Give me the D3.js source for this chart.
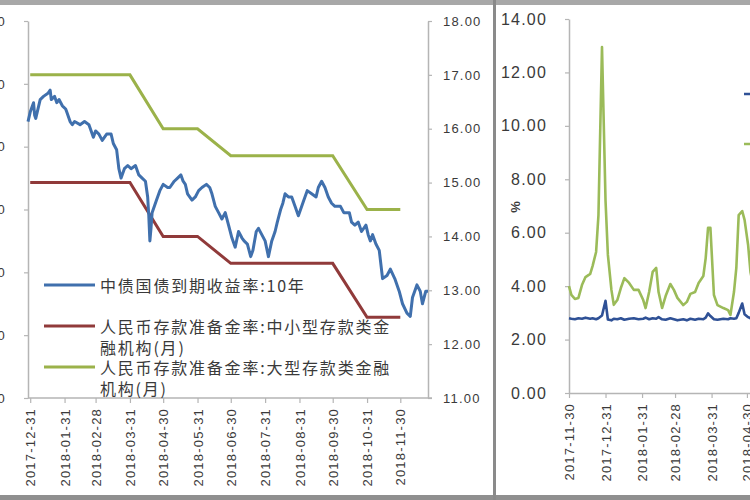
<!DOCTYPE html>
<html><head><meta charset="utf-8">
<script src="https://cdn.jsdelivr.net/npm/d3@7/dist/d3.min.js"></script>
<style>
body{margin:0;background:#fff;}
svg{display:block;}
text{font-family:"Liberation Sans","Noto Sans CJK SC",sans-serif;fill:#3a3a3a;}
.cjk{font-family:"Noto Sans CJK SC",sans-serif;}
</style></head>
<body>
<svg id="c" width="750" height="500"></svg>
<script>
// ---------- LEFT CHART DATA ----------
const bondDates = ["2017-12-29","2017-12-31","2018-01-03","2018-01-04","2018-01-05","2018-01-09","2018-01-12","2018-01-16","2018-01-18","2018-01-19","2018-01-22","2018-01-24","2018-01-26","2018-01-29","2018-02-01","2018-02-02","2018-02-05","2018-02-07","2018-02-09","2018-02-14","2018-02-18","2018-02-22","2018-02-26","2018-02-28","2018-03-03","2018-03-06","2018-03-10","2018-03-14","2018-03-16","2018-03-19","2018-03-21","2018-03-23","2018-03-26","2018-03-29","2018-04-01","2018-04-05","2018-04-08","2018-04-11","2018-04-14","2018-04-16","2018-04-17","2018-04-18","2018-04-19","2018-04-20","2018-04-24","2018-04-27","2018-04-30","2018-05-04","2018-05-06","2018-05-10","2018-05-13","2018-05-16","2018-05-18","2018-05-20","2018-05-22","2018-05-26","2018-05-29","2018-06-01","2018-06-04","2018-06-08","2018-06-11","2018-06-13","2018-06-16","2018-06-19","2018-06-22","2018-06-25","2018-06-28","2018-07-01","2018-07-04","2018-07-07","2018-07-10","2018-07-12","2018-07-15","2018-07-18","2018-07-20","2018-07-23","2018-07-25","2018-07-28","2018-07-31","2018-08-03","2018-08-06","2018-08-09","2018-08-11","2018-08-14","2018-08-16","2018-08-18","2018-08-21","2018-08-24","2018-08-27","2018-08-30","2018-09-01","2018-09-04","2018-09-07","2018-09-11","2018-09-15","2018-09-17","2018-09-20","2018-09-23","2018-09-26","2018-09-29","2018-10-02","2018-10-07","2018-10-10","2018-10-15","2018-10-17","2018-10-20","2018-10-23","2018-10-26","2018-10-30","2018-11-01","2018-11-03","2018-11-05","2018-11-08","2018-11-11","2018-11-14","2018-11-18","2018-11-21","2018-11-25","2018-11-29","2018-12-02","2018-12-06","2018-12-09","2018-12-11","2018-12-15","2018-12-18","2018-12-20","2018-12-23","2018-12-25"];
const bondYield = [3.88,3.91,3.94,3.90,3.89,3.95,3.96,3.97,3.98,3.95,3.96,3.94,3.95,3.93,3.92,3.91,3.88,3.87,3.88,3.87,3.88,3.87,3.83,3.85,3.84,3.82,3.84,3.84,3.81,3.79,3.73,3.70,3.73,3.74,3.73,3.74,3.71,3.70,3.69,3.64,3.58,3.50,3.54,3.59,3.63,3.66,3.68,3.67,3.67,3.69,3.70,3.71,3.69,3.68,3.65,3.63,3.64,3.66,3.67,3.68,3.67,3.65,3.61,3.59,3.57,3.59,3.55,3.51,3.48,3.53,3.51,3.50,3.49,3.45,3.47,3.53,3.54,3.52,3.50,3.45,3.50,3.53,3.56,3.60,3.62,3.65,3.64,3.64,3.61,3.58,3.60,3.63,3.66,3.65,3.64,3.67,3.69,3.67,3.64,3.62,3.61,3.61,3.59,3.59,3.56,3.55,3.56,3.53,3.55,3.52,3.50,3.52,3.49,3.47,3.38,3.39,3.41,3.38,3.34,3.30,3.27,3.26,3.32,3.36,3.34,3.30,3.34,3.34];
const rrrDates = ["2017-12-31","2018-01-31","2018-02-28","2018-03-31","2018-04-30","2018-05-31","2018-06-30","2018-07-31","2018-08-31","2018-09-30","2018-10-31","2018-11-30"];
const rrrSmall = [15,15,15,15,14,14,13.5,13.5,13.5,13.5,12.5,12.5];
const rrrLarge = [17,17,17,17,16,16,15.5,15.5,15.5,15.5,14.5,14.5];
const leftTicks = [3.0,3.2,3.4,3.6,3.8,4.0,4.2];
const rightTicks = [11,12,13,14,15,16,17,18];
const legendLines = [
  ["中债国债到期收益率:10年"],
  ["人民币存款准备金率:中小型存款类金","融机构(月)"],
  ["人民币存款准备金率:大型存款类金融","机构(月)"]
];

// ---------- RIGHT CHART DATA ----------
const repoDates = ["2017-11-30","2017-12-02","2017-12-05","2017-12-08","2017-12-11","2017-12-14","2017-12-18","2017-12-20","2017-12-23","2017-12-25","2017-12-28","2017-12-31","2018-01-02","2018-01-05","2018-01-07","2018-01-10","2018-01-13","2018-01-16","2018-01-20","2018-01-24","2018-01-28","2018-02-01","2018-02-03","2018-02-06","2018-02-09","2018-02-12","2018-02-14","2018-02-17","2018-02-20","2018-02-24","2018-02-27","2018-03-02","2018-03-07","2018-03-10","2018-03-13","2018-03-17","2018-03-20","2018-03-24","2018-03-26","2018-03-28","2018-03-30","2018-04-02","2018-04-05","2018-04-10","2018-04-14","2018-04-16","2018-04-19","2018-04-21","2018-04-23","2018-04-26","2018-04-28","2018-05-01","2018-05-03","2018-05-06"];
const repoBlue = [2.80,2.78,2.76,2.80,2.78,2.82,2.78,2.80,2.76,2.80,2.90,3.45,2.75,2.72,2.78,2.76,2.80,2.74,2.78,2.80,2.76,2.78,2.82,2.76,2.80,2.78,2.84,2.76,2.74,2.80,2.76,2.72,2.76,2.72,2.78,2.74,2.78,2.76,2.82,2.98,2.88,2.76,2.74,2.78,2.76,2.80,2.78,2.80,3.00,3.35,2.95,2.84,2.80,2.82];
const repoGreen = [4.00,3.67,3.52,3.56,4.04,4.34,4.46,4.75,5.28,6.66,12.95,7.20,5.17,3.86,3.30,3.48,3.93,4.30,4.12,3.86,3.86,3.48,3.18,3.78,4.53,4.68,3.78,3.18,3.63,4.08,3.86,3.56,3.29,3.41,3.71,3.78,4.12,4.38,5.05,6.18,6.18,3.67,3.29,3.18,3.10,2.92,3.78,4.68,6.66,6.81,6.48,5.54,4.53,3.86];
const repoTicks = [0,2,4,6,8,10,12,14];
const repoMonthTicks = ["2017-11-30","2017-12-31","2018-01-31","2018-02-28","2018-03-31","2018-04-30"];

// ---------- DRAW ----------
const parse = d3.utcParse("%Y-%m-%d");
const fmtDate = d3.utcFormat("%Y-%m-%d");
const svg = d3.select("#c");
const axisCol = "#b5b5b5";

// frame
svg.append("rect").attr("x",0).attr("y",0).attr("width",750).attr("height",500).attr("fill","#fff");

// ===== LEFT =====
const L = {x0:28, x1:428, y0:21, y1:398};
const xL = d3.scaleUtc().domain([parse("2017-12-29"), parse("2018-12-25")]).range([L.x0, L.x1]);
const yYield = d3.scaleLinear().domain([3.0,4.2]).range([L.y1, L.y0]);
const yRRR = d3.scaleLinear().domain([11,18]).range([L.y1, L.y0]);

const gL = svg.append("g");
// left axis
const axL = gL.append("g").attr("transform",`translate(${L.x0},0)`)
  .call(d3.axisLeft(yYield).tickValues(leftTicks).tickFormat(d3.format(".2f")).tickSize(4).tickSizeOuter(0).tickPadding(18));
// right axis
const axR = gL.append("g").attr("transform",`translate(${L.x1},0)`)
  .call(d3.axisRight(yRRR).tickValues(rightTicks).tickFormat(d3.format(".2f")).tickSize(4).tickSizeOuter(0).tickPadding(11));
// bottom axis
const axB = gL.append("g").attr("transform",`translate(0,${L.y1})`)
  .call(d3.axisBottom(xL).tickValues(rrrDates.map(parse)).tickFormat(fmtDate).tickSize(5).tickSizeOuter(0));
axB.selectAll("text").attr("transform","rotate(-90)").attr("text-anchor","end")
  .attr("x",-10).attr("y",0).attr("dy","0.35em");
[axL,axR,axB].forEach(a=>{
  a.select(".domain").attr("stroke",axisCol).attr("stroke-width",1.5);
  a.selectAll(".tick line").attr("stroke",axisCol).attr("stroke-width",1.2);
  a.selectAll("text").style("font-size","13px").style("letter-spacing","1.2px").attr("fill","#3a3a3a");
});
axB.select(".domain").attr("d",`M${L.x0},0H${L.x1+4}`);

const lineL = d3.line().x(d=>xL(d[0])).y(d=>d[1]);
const bond = bondDates.map((d,i)=>[parse(d), yYield(bondYield[i])]);
const small = rrrDates.map((d,i)=>[parse(d), yRRR(rrrSmall[i])]);
const large = rrrDates.map((d,i)=>[parse(d), yRRR(rrrLarge[i])]);
gL.append("path").attr("d",lineL(large)).attr("fill","none").attr("stroke","#9bb24a").attr("stroke-width",3);
gL.append("path").attr("d",lineL(small)).attr("fill","none").attr("stroke","#903a3a").attr("stroke-width",3);
gL.append("path").attr("d",lineL(bond)).attr("fill","none").attr("stroke","#4070ad").attr("stroke-width",3).attr("stroke-linejoin","round");

// legend
const legColors = ["#4070ad","#903a3a","#9bb24a"];
const legY = [285, 326, 367];
legendLines.forEach((lines,i)=>{
  gL.append("line").attr("x1",44).attr("x2",95).attr("y1",legY[i]).attr("y2",legY[i])
    .attr("stroke",legColors[i]).attr("stroke-width",3);
  lines.forEach((t,j)=>{
    gL.append("text").attr("class","cjk").attr("x",100).attr("y",legY[i]+j*21)
      .attr("dominant-baseline","central").style("font-size","16px").style("letter-spacing","1.8px")
      .attr("fill","#333").text(t);
  });
});

// ===== RIGHT =====
const R = {x0:569, x1:754, y0:19, y1:393};
const xR = d3.scaleUtc().domain([parse("2017-11-30"), parse("2018-05-06")]).range([R.x0, R.x1]);
const yR = d3.scaleLinear().domain([0,14]).range([R.y1, R.y0]);
const gR = svg.append("g");
const axRL = gR.append("g").attr("transform",`translate(${R.x0},0)`)
  .call(d3.axisLeft(yR).tickValues(repoTicks).tickFormat(d3.format(".2f")).tickSize(4).tickSizeOuter(0).tickPadding(18));
const axRB = gR.append("g").attr("transform",`translate(0,${R.y1})`)
  .call(d3.axisBottom(xR).tickValues(repoMonthTicks.map(parse)).tickFormat(fmtDate).tickSize(5).tickSizeOuter(0));
axRB.selectAll("text").attr("transform","rotate(-90)").attr("text-anchor","end")
  .attr("x",-10).attr("y",0).attr("dy","0.35em");
[axRL,axRB].forEach(a=>{
  a.select(".domain").attr("stroke",axisCol).attr("stroke-width",1.5);
  a.selectAll(".tick line").attr("stroke",axisCol).attr("stroke-width",1.2);
  a.selectAll("text").attr("fill","#3a3a3a");
});
axRL.selectAll("text").style("font-size","16px").style("letter-spacing","1.2px");
axRB.selectAll("text").style("font-size","13px").style("letter-spacing","1.2px");
gR.append("text").attr("x",515).attr("y",207).attr("text-anchor","middle").attr("dominant-baseline","central")
  .attr("transform","rotate(-90,515,207)").style("font-size","13px").style("font-weight","bold").text("%");

const lineR = d3.line().x((d,i)=>xR(parse(repoDates[i]))).y(d=>yR(d));
gR.append("path").attr("d",lineR(repoGreen)).attr("fill","none").attr("stroke","#9bbb59").attr("stroke-width",2.6).attr("stroke-linejoin","round");
gR.append("path").attr("d",lineR(repoBlue)).attr("fill","none").attr("stroke","#2f5196").attr("stroke-width",2.6).attr("stroke-linejoin","round");
// legend swatches (labels lie outside the visible crop)
gR.append("line").attr("x1",744).attr("x2",790).attr("y1",94).attr("y2",94).attr("stroke","#2f5196").attr("stroke-width",2.6);
gR.append("line").attr("x1",744).attr("x2",790).attr("y1",144).attr("y2",144).attr("stroke","#9bbb59").attr("stroke-width",2.6);

// gray borders
svg.append("rect").attr("x",0).attr("y",0).attr("width",750).attr("height",5).attr("fill","#a8a8a8");
svg.append("rect").attr("x",0).attr("y",495).attr("width",750).attr("height",5).attr("fill","#8f8f8f");
svg.append("rect").attr("x",493).attr("y",0).attr("width",3).attr("height",500).attr("fill","#8a8a8a");
</script>
</body></html>
